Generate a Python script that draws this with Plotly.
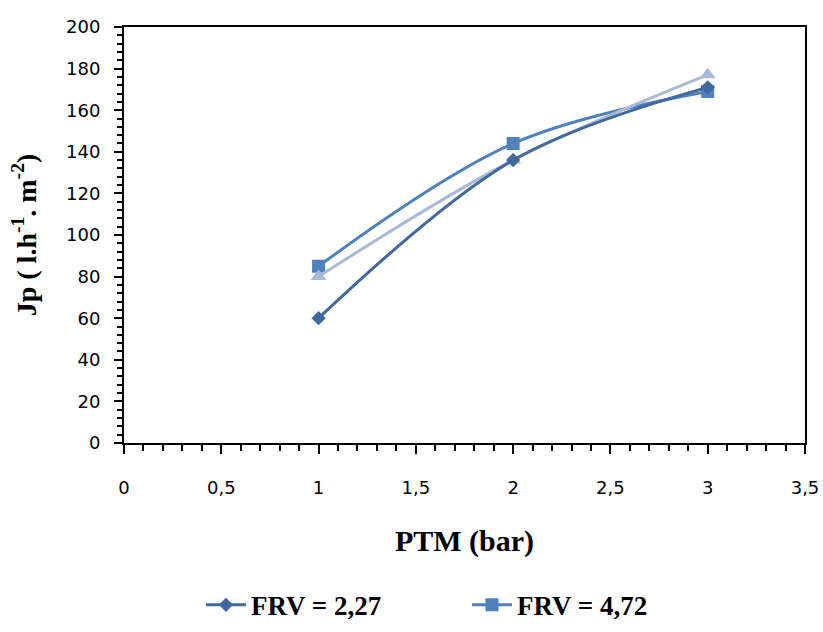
import plotly.graph_objects as go

ptm = [1, 2, 3]
frv_227 = [60, 136, 171]
frv_472 = [85, 144, 169]
frv_third = [80, 136, 177]

x_ticks = [0, 0.5, 1, 1.5, 2, 2.5, 3, 3.5]
x_tick_text = ["0", "0,5", "1", "1,5", "2", "2,5", "3", "3,5"]
y_ticks = [0, 20, 40, 60, 80, 100, 120, 140, 160, 180, 200]

fig = go.Figure()
fig.add_trace(go.Scatter(x=ptm, y=frv_472, name="<b>FRV = 4,72</b>", mode="lines+markers",
                         line=dict(color="#4f81bd", width=3, shape="spline"),
                         marker=dict(symbol="square", size=13, color="#4f81bd")))
fig.add_trace(go.Scatter(x=ptm, y=frv_third, name="FRV", mode="lines+markers", showlegend=False,
                         line=dict(color="#a9bad9", width=3, shape="spline"),
                         marker=dict(symbol="triangle-up", size=14, color="#a9bad9")))
fig.add_trace(go.Scatter(x=ptm, y=frv_227, name="<b>FRV = 2,27</b>", mode="lines+markers",
                         line=dict(color="#41699f", width=3, shape="spline"),
                         marker=dict(symbol="diamond", size=11, color="#41699f")))

fig.update_layout(
    width=823, height=632,
    margin=dict(l=124, r=18, t=27, b=189, autoexpand=False),
    plot_bgcolor="white", paper_bgcolor="white",
    showlegend=True,
    legend=dict(orientation="h", x=0.113, xanchor="left", y=-0.39, yanchor="middle",
                font=dict(family="Liberation Serif", size=27, color="black"),
                itemwidth=40, traceorder="reversed", entrywidthmode="pixels", entrywidth=211),
    font=dict(family="DejaVu Sans", size=18, color="black"),
    # inner halves of the crossing major ticks
    xaxis2=dict(overlaying="x", anchor="y", side="bottom", range=[0, 3.5], tickvals=x_ticks,
                showticklabels=False, ticks="inside", ticklen=5, tickwidth=2, tickcolor="black",
                showline=False, showgrid=False, zeroline=False, automargin=False),
    yaxis2=dict(overlaying="y", anchor="x", side="left", range=[0, 200], tickvals=y_ticks,
                showticklabels=False, ticks="inside", ticklen=5, tickwidth=2, tickcolor="black",
                showline=False, showgrid=False, zeroline=False, automargin=False),
)
fig.update_xaxes(selector=dict(anchor="y", overlaying=None))
fig.layout.xaxis.update(range=[0, 3.5], tickvals=x_ticks, ticktext=x_tick_text, automargin=False,
                 showgrid=False, zeroline=False, showline=True, linecolor="black", linewidth=2,
                 mirror=True, ticks="outside", ticklen=9, tickwidth=2, tickcolor="black",
                 ticklabelstandoff=18,
                 minor=dict(dtick=0.1, ticks="outside", ticklen=6, tickwidth=2, tickcolor="black"),
                 title=dict(text="<b>PTM (bar)</b>", font=dict(family="Liberation Serif", size=30),
                            standoff=33))
fig.layout.yaxis.update(range=[0, 200], tickvals=y_ticks, automargin=False,
                 showgrid=False, zeroline=False, showline=True, linecolor="black", linewidth=2,
                 mirror=True, ticks="outside", ticklen=8, tickwidth=2, tickcolor="black",
                 ticklabelstandoff=10,
                 minor=dict(dtick=4, ticks="outside", ticklen=5, tickwidth=2, tickcolor="black"),
                 title=dict(text="<b>Jp ( l.h<sup>-1</sup>. m<sup>-2</sup>)</b>",
                            font=dict(family="Liberation Serif", size=28), standoff=21))

fig.write_html("out.html")
